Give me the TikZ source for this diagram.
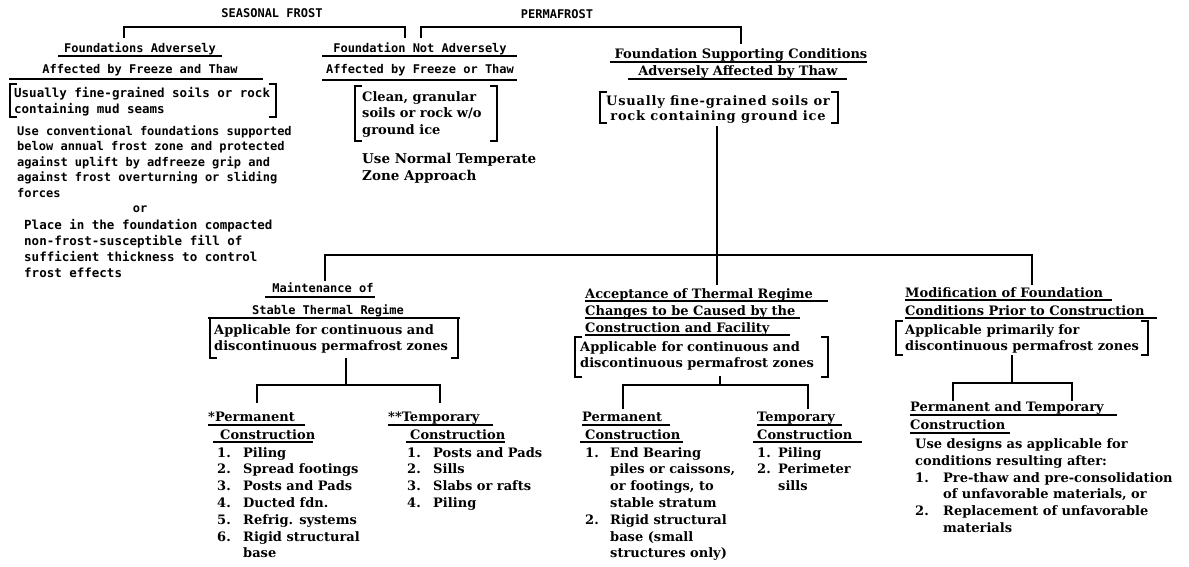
\documentclass[tikz,border=0pt]{standalone}
\usepackage{fontspec}
\usetikzlibrary{calc}
\newfontfamily\monof{DejaVu Sans Mono}
\newfontfamily\propf{DejaVu Serif}
\newfontfamily\propw{DejaVu Serif}[LetterSpace=6]
\newcommand{\itm}[3]{\makebox[#1pt][l]{#2}#3}
\newcommand{\bracketpair}[1]{%
  \draw[conn] ($(#1.north west)+(6,0)$) -- (#1.north west) -- (#1.south west) -- ($(#1.south west)+(6,0)$);
  \draw[conn] ($(#1.north east)+(-6,0)$) -- (#1.north east) -- (#1.south east) -- ($(#1.south east)+(-6,0)$);}
\tikzset{
  mono/.style={font=\monof\bfseries\fontsize{12}{15.5}\selectfont, inner sep=0pt, align=left},
  monol/.style={font=\monof\bfseries\fontsize{12.5}{16}\selectfont, inner sep=0pt, align=left},
  prop/.style={font=\propf\bfseries\fontsize{13}{16.8}\selectfont, inner sep=0pt, align=left},
  conn/.style={line width=1.6pt, line cap=rect},
  ul/.style={line width=1.2pt},
  brk/.style={inner sep=0pt, outer sep=0pt, anchor=north west}
}
\begin{document}
\begin{tikzpicture}[x=1pt,y=-1pt]
\useasboundingbox (0,0) rectangle (1189,566);
\fill[white] (0,0) rectangle (1189,566);

% ---- titles and top brackets
\node[mono, anchor=base] (sf) at (272,17) {SEASONAL FROST};
\node[mono, anchor=base] (pf) at (557,18) {PERMAFROST};
\coordinate (topY) at (0,27);
\coordinate (sfL) at (124,37);
\coordinate (sfR) at (405,37);
\coordinate (pfL) at (421,37);
\coordinate (pfR) at (741,43);
\draw[conn] (sfL) -- (sfL |- topY) -- (sfR |- topY) -- (sfR);
\draw[conn] (pfL) -- (pfL |- topY) -- (pfR |- topY) -- (pfR);

% ---- seasonal frost, adversely affected
\node[mono, anchor=base] (fa1) at (140,52) {Foundations Adversely};
\node[mono, anchor=base] (fa2) at (140,73) {Affected by Freeze and Thaw};
\draw[ul] (58,56) -- (222,56);
\draw[ul] (9,79) -- (263,79);
\node[brk, minimum width=266, minimum height=33] (bk1) at (10,84) {};
\bracketpair{bk1}
% multi-line nodes: base anchor = baseline of last line
\node[monol, anchor=base west] (t1) at (14,113) {Usually fine-grained soils or rock\\containing mud seams};
\node[mono, anchor=base west] (t2) at (17,197) {Use conventional foundations supported\\below annual frost zone and protected\\against uplift by adfreeze grip and\\against frost overturning or sliding\\forces};
\node[mono, anchor=base] (or) at (140,212) {or};
\node[monol, anchor=base west] (t3) at (24,277) {Place in the foundation compacted\\non-frost-susceptible fill of\\sufficient thickness to control\\frost effects};

% ---- seasonal frost, not adversely affected
\node[mono, anchor=base] (fn1) at (420,52) {Foundation Not Adversely};
\node[mono, anchor=base] (fn2) at (420,73) {Affected by Freeze or Thaw};
\draw[ul] (322,56) -- (517,56);
\draw[ul] (322,80) -- (517,80);
\node[brk, minimum width=142, minimum height=55] (bk2) at (355,86) {};
\bracketpair{bk2}
\node[prop, font=\propf\bfseries\fontsize{13}{16.5}\selectfont, anchor=base west] (t4) at (362,134) {Clean, granular\\soils or rock w/o\\ground ice};
\node[prop, font=\propf\bfseries\fontsize{13.5}{16.8}\selectfont, anchor=base west] (t5) at (362,180) {Use Normal Temperate\\Zone Approach};

% ---- permafrost
\node[prop, anchor=base] (fs1) at (741,58) {Foundation Supporting Conditions};
\node[prop, anchor=base] (fs2) at (738,75) {Adversely Affected by Thaw};
\draw[ul] (610,62) -- (867,62);
\draw[ul] (628,79) -- (847,79);
\node[brk, minimum width=238, minimum height=31] (bk3) at (600,92) {};
\bracketpair{bk3}
\node[prop, align=center, font=\propw\bfseries\fontsize{13}{15}\selectfont, anchor=base] (t6) at (718,120) {Usually fine-grained soils or\\rock containing ground ice};
\coordinate (mvT) at (717,127);
\coordinate (mvB) at (717,284);
\draw[conn] (mvT) -- (mvB);
\coordinate (h2a) at (325,280);
\coordinate (h2b) at (325,255);
\coordinate (h2c) at (1032,255);
\coordinate (h2d) at (1032,284);
\draw[conn] (h2a) -- (h2b) -- (h2c) -- (h2d);

% ---- maintenance of stable thermal regime
\node[mono, anchor=base] (m1) at (323,292) {Maintenance of};
\node[mono, anchor=base] (m2) at (328,314) {Stable Thermal Regime};
\draw[ul] (265,297) -- (375,297);
\draw[ul] (208,318) -- (460,318);
\node[brk, minimum width=248, minimum height=40] (bk4) at (210,318) {};
\bracketpair{bk4}
\node[prop, font=\propf\bfseries\fontsize{13}{16.5}\selectfont, anchor=base west] (t7) at (214,350.5) {Applicable for continuous and\\discontinuous permafrost zones};
\coordinate (j4t) at (346,359);
\coordinate (j4) at (346,385);
\coordinate (j4L) at (257,385);
\coordinate (j4R) at (440,385);
\coordinate (j4Ld) at (257,402);
\coordinate (j4Rd) at (440,402);
\draw[conn] (j4t) -- (j4);
\draw[conn] (j4Ld) -- (j4L) -- (j4R) -- (j4Rd);
\node[prop, anchor=base west] (p1) at (208,421) {*Permanent};
\node[prop, anchor=base west] (p2) at (220,439) {Construction};
\draw[ul] (208,425) -- (305,425);
\draw[ul] (213,442) -- (313,442);
\node[prop, anchor=base west] (l1) at (217,557.8) {\itm{26}{1.}{Piling}\\\itm{26}{2.}{Spread footings}\\\itm{26}{3.}{Posts and Pads}\\\itm{26}{4.}{Ducted fdn.}\\\itm{26}{5.}{Refrig. systems}\\\itm{26}{6.}{Rigid structural}\\\itm{26}{}{base}};
\node[prop, anchor=base west] (q1) at (388,421) {**Temporary};
\node[prop, anchor=base west] (q2) at (410,439) {Construction};
\draw[ul] (388,425) -- (493,425);
\draw[ul] (406,442) -- (505,442);
\node[prop, anchor=base west] (l2) at (407,507.4) {\itm{26}{1.}{Posts and Pads}\\\itm{26}{2.}{Sills}\\\itm{26}{3.}{Slabs or rafts}\\\itm{26}{4.}{Piling}};

% ---- acceptance of thermal regime changes
\node[prop, anchor=base west] (a1) at (585,298) {Acceptance of Thermal Regime};
\node[prop, anchor=base west] (a2) at (585,315) {Changes to be Caused by the};
\node[prop, anchor=base west] (a3) at (585,332) {Construction and Facility};
\draw[ul] (585,301) -- (828,301);
\draw[ul] (585,318) -- (800,318);
\draw[ul] (585,335) -- (790,335);
\node[brk, minimum width=253, minimum height=40] (bk5) at (575,337) {};
\bracketpair{bk5}
\node[prop, font=\propf\bfseries\fontsize{13}{16.5}\selectfont, anchor=base west] (t8) at (580,367.5) {Applicable for continuous and\\discontinuous permafrost zones};
\coordinate (j5t) at (720,377);
\coordinate (j5) at (720,385);
\coordinate (j5L) at (623,385);
\coordinate (j5R) at (808,385);
\coordinate (j5Ld) at (623,408);
\coordinate (j5Rd) at (808,408);
\draw[conn] (j5t) -- (j5);
\draw[conn] (j5Ld) -- (j5L) -- (j5R) -- (j5Rd);
\node[prop, anchor=base west] (r1) at (582,421) {Permanent};
\node[prop, anchor=base west] (r2) at (585,439) {Construction};
\draw[ul] (582,425) -- (670,425);
\draw[ul] (580,442) -- (683,442);
\node[prop, anchor=base west] (l3) at (585,557.8) {\itm{25}{1.}{End Bearing}\\\itm{25}{}{piles or caissons,}\\\itm{25}{}{or footings, to}\\\itm{25}{}{stable stratum}\\\itm{25}{2.}{Rigid structural}\\\itm{25}{}{base (small}\\\itm{25}{}{structures only)}};
\node[prop, anchor=base west] (s1) at (757,421) {Temporary};
\node[prop, anchor=base west] (s2) at (757,439) {Construction};
\draw[ul] (757,425) -- (842,425);
\draw[ul] (753,442) -- (862,442);
\node[prop, anchor=base west] (l4) at (757,490.6) {\itm{21}{1.}{Piling}\\\itm{21}{2.}{Perimeter}\\\itm{21}{}{sills}};

% ---- modification of foundation conditions
\node[prop, anchor=base west] (d1) at (905,297) {Modification of Foundation};
\node[prop, anchor=base west] (d2) at (905,315) {Conditions Prior to Construction};
\draw[ul] (905,300) -- (1112,300);
\draw[ul] (905,318) -- (1157,318);
\node[brk, minimum width=252, minimum height=34] (bk6) at (896,321) {};
\bracketpair{bk6}
\node[prop, font=\propf\bfseries\fontsize{13}{16.5}\selectfont, anchor=base west] (t9) at (905,350.5) {Applicable primarily for\\discontinuous permafrost zones};
\coordinate (j6t) at (1012,356);
\coordinate (j6) at (1012,383);
\coordinate (j6L) at (953,383);
\coordinate (j6R) at (1072,383);
\coordinate (j6Ld) at (953,400);
\coordinate (j6Rd) at (1072,400);
\draw[conn] (j6t) -- (j6);
\draw[conn] (j6Ld) -- (j6L) -- (j6R) -- (j6Rd);
\node[prop, anchor=base west] (e1) at (910,411) {Permanent and Temporary};
\node[prop, anchor=base west] (e2) at (910,429) {Construction};
\draw[ul] (910,415) -- (1117,415);
\draw[ul] (910,433) -- (1010,433);
\node[prop, font=\propf\bfseries\fontsize{13}{17}\selectfont, anchor=base west] (t10) at (915,465) {Use designs as applicable for\\conditions resulting after:};
\node[prop, anchor=base west] (l5) at (915,532.4) {\itm{28}{1.}{Pre-thaw and pre-consolidation}\\\itm{28}{}{of unfavorable materials, or}\\\itm{28}{2.}{Replacement of unfavorable}\\\itm{28}{}{materials}};
\end{tikzpicture}
\end{document}
